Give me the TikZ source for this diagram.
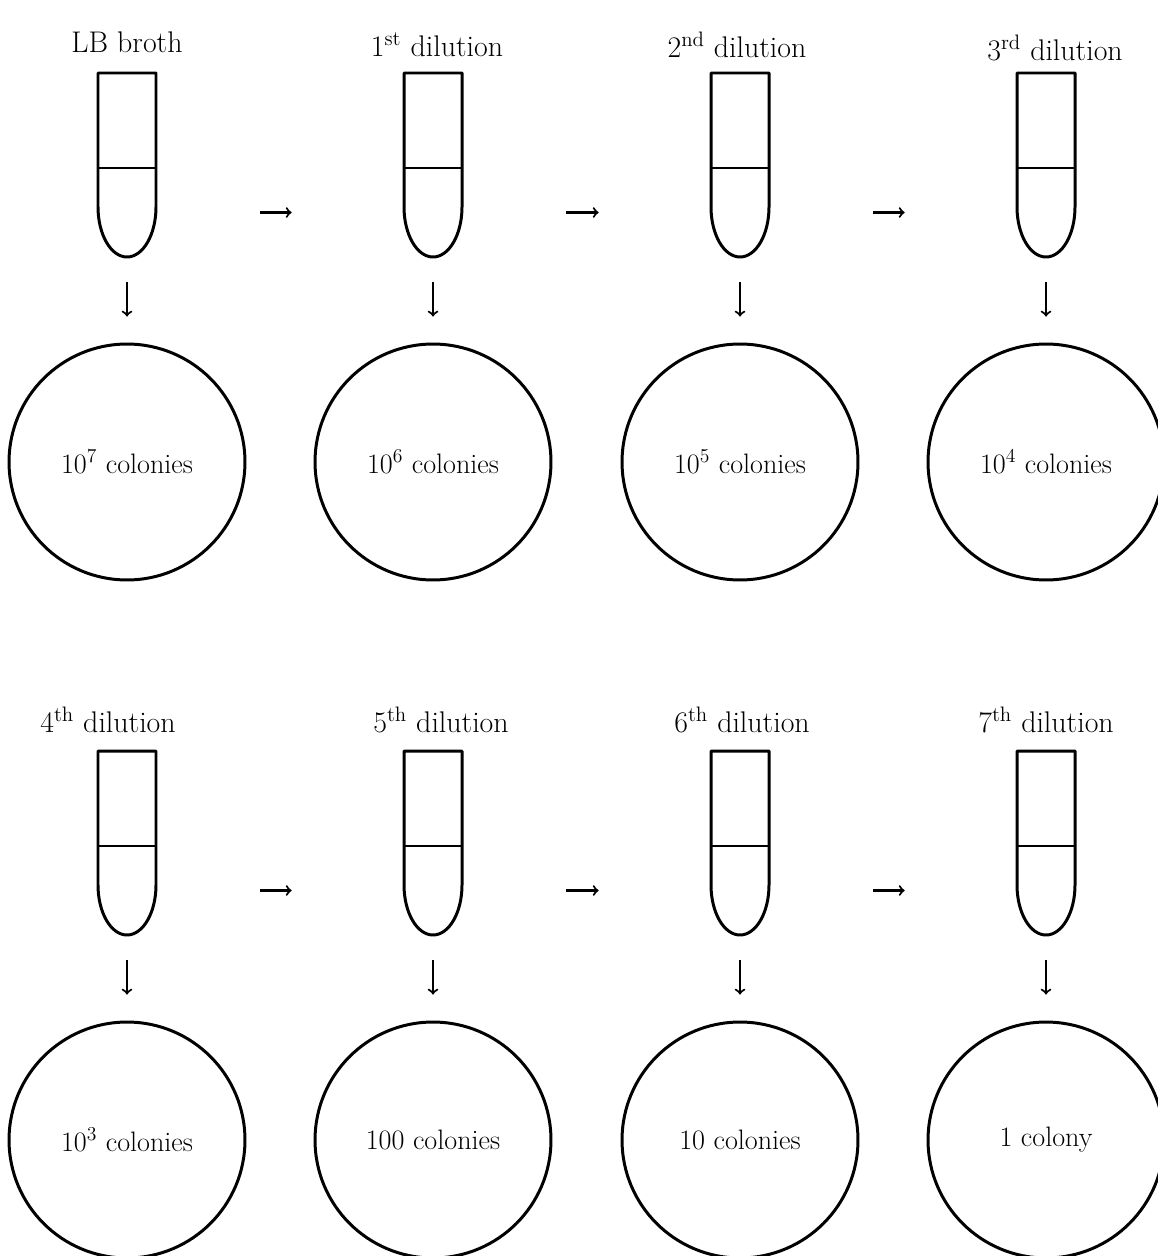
\documentclass[tikz,border=0pt]{standalone}
\usetikzlibrary{arrows}
\tikzset{
	tube/.style={
		draw,
		line width=1.7pt,
		line join=round
	},
	lvl/.style={
		rectangle,
		inner sep=0pt,
		minimum width=1.16cm,
		minimum height=1.78cm
	},
	plate/.style={
		circle,
		draw,
		line width=1.7pt,
		minimum size=4.72cm,
		font=\fontsize{16}{18}\selectfont
	},
	arr/.style={
		->,
		>=to,
		line width=1.2pt
	}
}

\begin{document}
\begin{tikzpicture}[x=0.02cm, y=-0.02cm]
\useasboundingbox (0, 0) rectangle (1158, 1256);
\foreach \i/\cx/\cy/\lx/\ly/\txt/\cnt in {
	1/127/0/127/42/{LB broth}/{10\textsuperscript{7} colonies},
	2/433/0/437/45/{1\textsuperscript{st} dilution}/{10\textsuperscript{6} colonies},
	3/740/0/737/45/{2\textsuperscript{nd} dilution}/{10\textsuperscript{5} colonies},
	4/1046/0/1055/48/{3\textsuperscript{rd} dilution}/{10\textsuperscript{4} colonies},
	5/127/678/108/720/{4\textsuperscript{th} dilution}/{10\textsuperscript{3} colonies},
	6/433/678/441/720/{5\textsuperscript{th} dilution}/{100 colonies},
	7/740/678/742/720/{6\textsuperscript{th} dilution}/{10 colonies},
	8/1046/678/1046/720/{7\textsuperscript{th} dilution}/{1 colony}} {
	\node[lvl] (L\i) at (\cx, \cy+212.5) {};
	\draw[tube] (\cx-29, \cy+73) -- (\cx-29, \cy+207) arc[start angle=180, end angle=0, x radius=29, y radius=50] -- (\cx+29, \cy+73) -- cycle;
	\draw[line width=1.1pt] (L\i.north west) -- (L\i.north east);
	\node[font=\fontsize{17}{20}\selectfont] (T\i) at (\lx, \ly) {\txt};
	\node[plate] (P\i) at (\cx, \cy+462) {\cnt};
	\draw[arr, shorten <=0.5cm, shorten >=0.52cm] (L\i) -- (P\i);
}

% sample passed on to the next tube
\foreach \i/\j in {1/2, 2/3, 3/4, 5/6, 6/7, 7/8} {
	\draw[arr, shorten <=2.08cm, shorten >=2.24cm] (L\i) -- (L\j);
}
\end{tikzpicture}
\end{document}
